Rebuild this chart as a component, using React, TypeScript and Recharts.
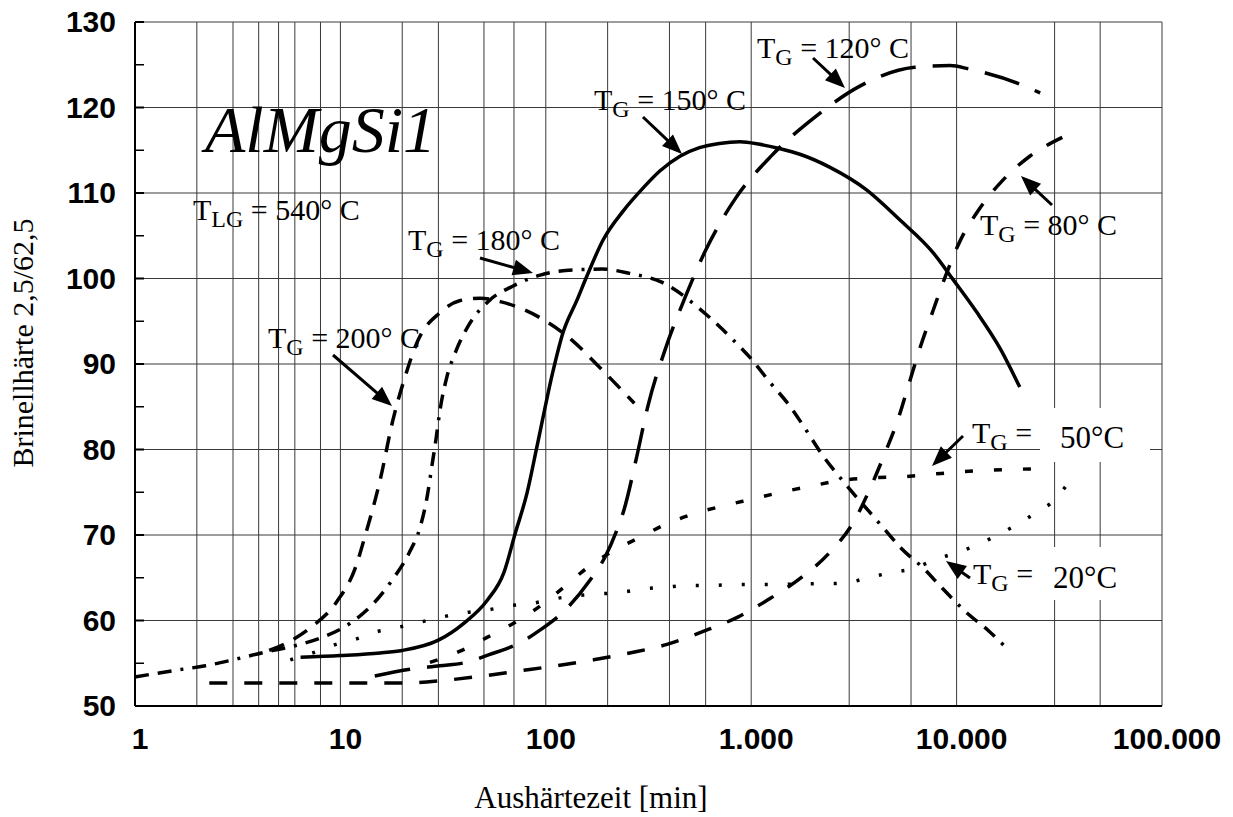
import { LineChart, Line, XAxis, YAxis, CartesianGrid } from 'recharts';

// Aushärtezeit [min] vs. Brinellhärte
const TG200: [number, number][] = [
  [4.5, 56.5], [5.4, 57.3], [7.1, 59.1], [9.6, 62.2], [11.8, 66.1], [13.3, 70.2],
  [15.6, 76.4], [18, 83.4], [20.4, 88.1], [23.9, 92.8], [30.5, 96.0], [38, 97.4],
  [48, 97.7], [60, 97.3], [94, 95.4], [134, 92.8], [183, 89.6], [270, 85.4],
];
const TG180: [number, number][] = [
  [1, 53.4], [1.6, 54.2], [2.2, 54.7], [3.0, 55.4], [4.3, 56.3], [5.9, 57.0],
  [8.1, 58.0], [11.2, 59.7], [14.5, 62.0], [17.7, 64.6], [21.6, 67.9], [24.5, 71.0],
  [26.5, 74.6], [27.9, 78.1], [29.2, 81.2], [30.5, 84.5], [33, 88.5], [36.5, 91.5],
  [41.8, 94.4], [53.5, 97.5], [69, 99.1], [94, 100.4], [135, 101], [188, 101.1],
  [256, 100.6], [364, 99.6], [610, 95.7], [810, 92.9], [1000, 90.6], [1220, 88],
  [1540, 85.1], [1860, 82.2], [2200, 79.5], [2800, 76.3], [4200, 71.4], [5400, 68.4],
  [6900, 66.1], [8500, 63.8], [11100, 61], [14300, 58.8], [17300, 56.9],
];
const TG150: [number, number][] = [
  [6.4, 55.7], [10, 55.9], [15.6, 56.2], [20, 56.5], [30, 57.7], [40, 59.7],
  [52, 62.4], [62.5, 65.6], [71, 70.2], [81, 74.9], [90.5, 80.3], [108, 89],
  [121, 93.6], [142, 97.5], [158, 100.2], [190, 104.5], [240, 108], [298, 110.6],
  [360, 112.6], [450, 114.3], [560, 115.3], [700, 115.8], [880, 116], [1100, 115.7],
  [1370, 115.2], [1740, 114.5], [2420, 113.0], [3630, 110.4], [5270, 106.9],
  [7700, 103], [9600, 99.9], [12500, 96.1], [16300, 91.8], [20300, 87.3],
];
const TG120: [number, number][] = [
  [14.7, 53.5], [21.8, 54.3], [30.5, 54.7], [41, 55.1], [53, 56.0], [75, 57.4],
  [94, 58.9], [124, 61.2], [164, 64.7], [194, 67.4], [222, 70.6], [240, 72.9],
  [275, 78.8], [315, 85.2], [380, 91.6], [475, 97.7], [600, 103.3], [840, 109.4],
  [1260, 114.4], [2050, 118.9], [3380, 122.5], [6250, 124.7], [9300, 124.9],
  [11500, 124.5], [21000, 122.6], [25500, 121.7],
];
const TG80: [number, number][] = [
  [2.3, 52.7], [3.9, 52.7], [5.9, 52.7], [9, 52.7], [13.8, 52.7], [21, 52.7],
  [32, 53.0], [49, 53.5], [74, 54.1], [112, 54.7], [171, 55.4], [256, 56.2],
  [389, 57.2], [580, 58.7], [860, 60.4], [1240, 62.6], [1770, 65.1], [2400, 67.9],
  [3200, 71.8], [3800, 75.5], [4450, 79.4], [5130, 83.2], [5880, 87.8], [6640, 91.9],
  [7670, 96.2], [8800, 100.2], [10400, 104.4], [12800, 108.0], [16800, 111.5],
  [22700, 114.3], [32700, 116.5],
];
const TG50: [number, number][] = [
  [27.3, 55.1], [39, 56.5], [51.5, 58], [70, 59.7], [94, 61.7], [121, 63.8],
  [158, 66.1], [208, 68], [280, 69.6], [380, 71.2], [527, 72.5], [730, 73.4],
  [1010, 74.2], [1400, 75], [1940, 75.7], [2770, 76.4], [3850, 76.7], [5370, 76.8],
  [7520, 77.1], [10500, 77.4], [14700, 77.6], [20700, 77.7], [29000, 77.8],
];
const TG20: [number, number][] = [
  [5.7, 55.4], [7.3, 56.2], [9.2, 57.1], [11.8, 57.8], [15.1, 58.7], [19.1, 59.2],
  [24.4, 59.8], [31.2, 60.4], [40, 60.9], [51.5, 61.2], [65, 61.7], [85.6, 62.0],
  [108, 62.5], [140, 62.9], [180, 63.1], [232, 63.3], [298, 63.7], [385, 63.9],
  [490, 64.1], [637, 64.1], [820, 64.2], [1060, 64.2], [1370, 64.2], [1740, 64.3],
  [2260, 64.3], [2900, 64.4], [3700, 65], [4800, 65.6], [6200, 66.1], [7800, 67.1],
  [9900, 67.9], [12500, 68.8], [15800, 70], [19600, 71.2], [24300, 72.6],
  [30000, 74.1], [35000, 76.1],
];

const X_TICKS = [1, 10, 100, 1000, 10000, 100000];
const Y_TICKS = [50, 55, 60, 65, 70, 75, 80, 85, 90, 95, 100, 105, 110, 115, 120, 125, 130];
const H_GRID = [60, 70, 80, 90, 100, 110, 120, 130];
const DECADES = [1, 10, 100, 1000, 10000];
const STEPS = [2, 3, 4, 5, 6, 7, 8, 9, 10];
const V_GRID = DECADES.flatMap(d => STEPS.map(s => d * s));

const toPts = (arr: [number, number][]) => arr.map(([x, y]) => ({ x, y }));

const SERIES = [
  { name: '200', data: TG200, dash: '16 11', width: 3.5 },
  { name: '180', data: TG180, dash: '14 9 14 9 3 9', width: 3.5 },
  { name: '150', data: TG150, dash: undefined, width: 3.5 },
  { name: '120', data: TG120, dash: '36 17', width: 3.5 },
  { name: '80', data: TG80, dash: '18 17', width: 3.5 },
  { name: '50', data: TG50, dash: '8 21', width: 3.5 },
  { name: '20', data: TG20, dash: '3 20', width: 3.5 },
];

const SANS = '"Liberation Sans", Arial, sans-serif';
const SERIF = '"Liberation Serif", "Times New Roman", serif';

const fmtDe = (v: number) => String(v).replace(/\B(?=(\d{3})+(?!\d))/g, '.');

function YTick(props: any) {
  const { x, y, payload } = props;
  const v = payload.value as number;
  if (v % 10 !== 0) {
    return <line x1={x} x2={x + 9} y1={y} y2={y} stroke="#000" strokeWidth={1.5} />;
  }
  return (
    <g>
      <line x1={x} x2={x + 9} y1={y} y2={y} stroke="#000" strokeWidth={2} />
      <text x={x - 19} y={y + 10} textAnchor="end" fontFamily={SANS} fontWeight="bold" fontSize={30} fill="#000">
        {v}
      </text>
    </g>
  );
}

function XTick(props: any) {
  const { x, y, payload } = props;
  return (
    <text x={x + 5} y={y + 43} textAnchor="middle" fontFamily={SANS} fontWeight="bold" fontSize={30} fill="#000">
      {fmtDe(payload.value)}
    </text>
  );
}

function Arrow({ x1, y1, x2, y2 }: { x1: number; y1: number; x2: number; y2: number }) {
  const dx = x2 - x1, dy = y2 - y1;
  const len = Math.hypot(dx, dy);
  const ux = dx / len, uy = dy / len;
  const hl = 20, hw = 8;
  const bx = x2 - ux * hl, by = y2 - uy * hl;
  const pts = `${x2},${y2} ${bx - uy * hw},${by + ux * hw} ${bx + uy * hw},${by - ux * hw}`;
  return (
    <g>
      <line x1={x1} y1={y1} x2={bx + ux * 2} y2={by + uy * 2} stroke="#000" strokeWidth={3} />
      <polygon points={pts} fill="#000" />
    </g>
  );
}

function TLabel({ x, y, sub, rest }: { x: number; y: number; sub: string; rest: string }) {
  return (
    <text x={x} y={y} fontFamily={SERIF} fontSize={30} fill="#000">
      T<tspan fontSize={24} dy={7}>{sub}</tspan><tspan dy={-7}>{rest}</tspan>
    </text>
  );
}

export default function App() {
  return (
    <div style={{ position: 'absolute', left: 0, top: 0, width: 1233, height: 817, background: '#fff' }}>
      <LineChart width={1233} height={817} margin={{ top: 22, right: 71, bottom: 0, left: 0 }}>
        <CartesianGrid
          horizontalValues={H_GRID}
          verticalValues={V_GRID}
          stroke="#3a3a3a"
          strokeWidth={1}
        />
        <XAxis
          dataKey="x"
          type="number"
          scale="log"
          domain={[1, 100000]}
          allowDataOverflow
          ticks={X_TICKS}
          tick={<XTick />}
          tickLine={false}
          tickSize={0}
          tickMargin={0}
          height={111}
          axisLine={{ stroke: '#000', strokeWidth: 2 }}
        />
        <YAxis
          type="number"
          domain={[50, 130]}
          ticks={Y_TICKS}
          interval={0}
          tick={<YTick />}
          tickLine={false}
          tickSize={0}
          tickMargin={0}
          width={135}
          axisLine={{ stroke: '#000', strokeWidth: 2 }}
        />
        {SERIES.map(s => (
          <Line
            key={s.name}
            data={toPts(s.data)}
            dataKey="y"
            type="monotone"
            stroke="#000"
            strokeWidth={s.width}
            strokeDasharray={s.dash}
            dot={false}
            activeDot={false}
            isAnimationActive={false}
          />
        ))}
      </LineChart>
      <svg width={1233} height={817} style={{ position: 'absolute', left: 0, top: 0, pointerEvents: 'none' }}>
        <text x={205} y={152} fontFamily={SERIF} fontStyle="italic" fontSize={66} fill="#000">AlMgSi1</text>
        <TLabel x={193} y={220} sub="LG" rest=" = 540° C" />
        <TLabel x={268} y={348} sub="G" rest=" = 200° C" />
        <TLabel x={408} y={250} sub="G" rest=" = 180° C" />
        <TLabel x={594} y={110} sub="G" rest=" = 150° C" />
        <TLabel x={757} y={58} sub="G" rest=" = 120° C" />
        <TLabel x={980} y={235} sub="G" rest=" = 80° C" />
        <rect x={1040} y={408} width={110} height={54} fill="#fff" />
        <TLabel x={972} y={443} sub="G" rest=" =" />
        <text x={1060} y={448} fontFamily={SERIF} fontSize={31} fill="#000">50°C</text>
        <rect x={1040} y={547} width={110} height={53} fill="#fff" />
        <TLabel x={973} y={584} sub="G" rest=" =" />
        <text x={1053} y={588} fontFamily={SERIF} fontSize={31} fill="#000">20°C</text>
        <Arrow x1={333} y1={355} x2={392} y2={406} />
        <Arrow x1={480} y1={258} x2={533} y2={273} />
        <Arrow x1={643} y1={117} x2={682} y2={154} />
        <Arrow x1={813} y1={58} x2={845} y2={88} />
        <Arrow x1={1052} y1={205} x2={1021} y2={176} />
        <Arrow x1={963} y1={436} x2={932} y2={466} />
        <Arrow x1={970} y1={578} x2={946} y2={561} />
        <text
          x={0}
          y={0}
          transform="translate(33,343) rotate(-90)"
          textAnchor="middle"
          fontFamily={SERIF}
          fontSize={30}
          fill="#000"
        >
          Brinellhärte 2,5/62,5
        </text>
        <text x={591} y={808} textAnchor="middle" fontFamily={SERIF} fontSize={31} fill="#000">
          Aushärtezeit [min]
        </text>
      </svg>
    </div>
  );
}
